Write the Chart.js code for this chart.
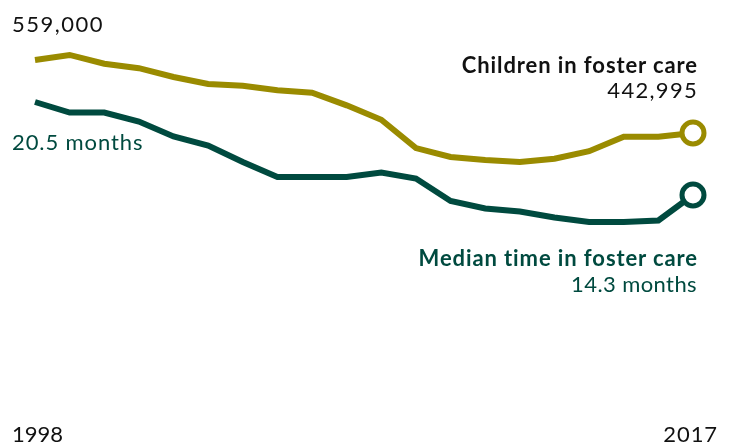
<!DOCTYPE html>
<html lang="en">
<head>
    <meta charset="UTF-8">
    <title>Children in foster care</title>
    <style>
        body {
            margin: 0;
            padding: 0;
            background: #fff;
            font-family: Lato, "Open Sans", sans-serif;
        }
        .wrap {
            position: relative;
            width: 729px;
            height: 444px;
            overflow: hidden;
        }
        .lbl {
            position: absolute;
            font-size: 22px;
            letter-spacing: 0.9px;
            line-height: 1;
            white-space: nowrap;
            color: #111;
        }
        .right { text-align: right; }
        .bold { font-weight: 700; }
        .green { color: #004a3f; }
    </style>
</head>
<body>
    <div class="wrap">
        <canvas id="chart" width="729" height="444"></canvas>
        <div class="lbl" style="left:12px; top:13px; letter-spacing:1.5px;">559,000</div>
        <div class="lbl green" style="left:12px; top:131px;">20.5 months</div>
        <div class="lbl bold right" style="right:31px; top:54px;">Children in foster care</div>
        <div class="lbl right" style="right:31px; top:79px; letter-spacing:1.3px;">442,995</div>
        <div class="lbl bold green right" style="right:31px; top:247px;">Median time in foster care</div>
        <div class="lbl green right" style="right:32px; top:273px; letter-spacing:0.4px;">14.3 months</div>
        <div class="lbl" style="left:12px; top:423px; letter-spacing:0;">1998</div>
        <div class="lbl right" style="right:11px; top:423px;">2017</div>
    </div>
    <script src="https://cdn.jsdelivr.net/npm/chart.js"></script>
    <script>
        const years = ['1998', '1999', '2000', '2001', '2002', '2003', '2004', '2005', '2006', '2007',
                       '2008', '2009', '2010', '2011', '2012', '2013', '2014', '2015', '2016', '2017'];
        // children in foster care (count)
        const children = [559000, 567000, 553000, 546000, 532000, 521000, 518000, 511000, 507000, 487000,
                          464000, 419000, 405000, 400000, 397000, 402000, 414000, 437000, 437000, 442995];
        // median months in foster care
        const medianMonths = [20.5, 19.8, 19.8, 19.2, 18.2, 17.6, 16.5, 15.5, 15.5, 15.5,
                              15.8, 15.4, 13.9, 13.4, 13.2, 12.8, 12.5, 12.5, 12.6, 14.3];

        const olive = '#9a8b00';
        const green = '#004a3f';

        // only the last point gets a circle
        function lastOnly(r) {
            return ctx => ctx.dataIndex === years.length - 1 ? r : 0;
        }

        new Chart(document.getElementById('chart'), {
            type: 'line',
            data: {
                labels: years,
                datasets: [{
                    data: children,
                    yAxisID: 'yKids',
                    borderColor: olive,
                    borderWidth: 6,
                    pointRadius: lastOnly(11),
                    pointBorderWidth: 5,
                    pointBackgroundColor: '#fff',
                    pointBorderColor: olive,
                    tension: 0,
                    clip: false
                }, {
                    data: medianMonths,
                    yAxisID: 'yMonths',
                    borderColor: green,
                    borderWidth: 6,
                    pointRadius: lastOnly(11),
                    pointBorderWidth: 5,
                    pointBackgroundColor: '#fff',
                    pointBorderColor: green,
                    tension: 0,
                    clip: false
                }]
            },
            options: {
                responsive: false,
                animation: false,
                layout: { autoPadding: false, padding: { left: 35, right: 36, top: 0, bottom: 0 } },
                plugins: {
                    legend: { display: false },
                    tooltip: { enabled: false }
                },
                scales: {
                    x: { display: false },
                    yKids: { display: false, min: -51213, max: 654346 },
                    yMonths: { display: false, min: -2.3, max: 27.3 }
                }
            }
        });
    </script>
</body>
</html>
